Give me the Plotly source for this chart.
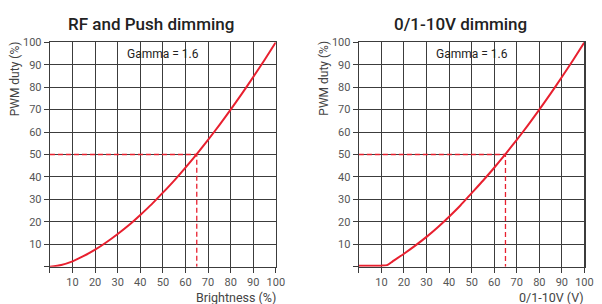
import plotly.graph_objects as go

# ---- data ----
x_rf = [0, 5, 10, 15, 20, 25, 30, 35, 40, 45, 50, 55, 60, 65, 70, 75, 80, 85, 90, 95, 100]
y_rf = [0, 0.8, 2.4, 4.8, 7.6, 10.9, 14.6, 18.6, 23.1, 27.8, 33.0, 38.4, 44.2, 50.2, 56.5, 63.1, 70.0, 77.1, 84.5, 92.1, 100]

x_v = [0, 5, 10, 12.5, 15, 20, 25, 30, 35, 40, 45, 50, 55, 60, 65, 70, 75, 80, 85, 90, 95, 100]
y_v = [0.5, 0.5, 0.5, 0.7, 2.4, 5.8, 9.4, 13.3, 17.6, 22.3, 27.3, 32.8, 38.3, 44.1, 50.2, 56.5, 63.1, 70.0, 77.1, 84.5, 92.1, 100]

ref_x = [0, 65, 65]
ref_y = [50, 50, 0]

tick_vals = [0, 10, 20, 30, 40, 50, 60, 70, 80, 90, 100]
tick_text = ["", "10", "20", "30", "40", "50", "60", "70", "80", "90", "100"]

titles = ["RF and Push dimming", "0/1-10V dimming"]
x_titles = ["Brightness (%)", "0/1-10V (V)"]
y_title = "PWM duty (%)"
note = "Gamma = 1.6"

W, H = 602, 304
RED = "#e8202f"
GRID = "#3c3c3c"
FONT = "Roboto"

fig = go.Figure()

series = [(x_rf, y_rf), (x_v, y_v)]
for i, (xs, ys) in enumerate(series):
    xa = "x" if i == 0 else "x2"
    ya = "y" if i == 0 else "y2"
    fig.add_trace(go.Scatter(x=ref_x, y=ref_y, mode="lines", xaxis=xa, yaxis=ya,
                             line=dict(color=RED, width=1.3, dash="5px,3px"), showlegend=False,
                             hoverinfo="skip"))
    fig.add_trace(go.Scatter(x=xs, y=ys, mode="lines", xaxis=xa, yaxis=ya,
                             line=dict(color=RED, width=2, shape="spline", smoothing=0.6),
                             showlegend=False))

x_domains = [[50.7 / W, 280.0 / W], [364.3 / W, 593.3 / W]]
y_domain = [(H - 266.0) / H, (H - 37.0) / H]

axis_common = dict(range=[0, 100], tickvals=tick_vals, ticktext=tick_text,
                   showgrid=True, gridcolor=GRID, gridwidth=1,
                   showline=True, linecolor=GRID, linewidth=1.2, mirror=True,
                   ticks="outside", ticklen=5, tickcolor=GRID, tickwidth=1,
                   zeroline=False, fixedrange=True,
                   tickfont=dict(family=FONT, size=11, color="#555555"))

fig.update_layout(
    width=W, height=H, margin=dict(l=0, r=0, t=0, b=0),
    paper_bgcolor="white", plot_bgcolor="white",
    xaxis=dict(domain=x_domains[0], anchor="y", **axis_common),
    yaxis=dict(domain=y_domain, anchor="x", **axis_common),
    xaxis2=dict(domain=x_domains[1], anchor="y2", **axis_common),
    yaxis2=dict(domain=y_domain, anchor="x2", **axis_common),
)

title_centers = [153, 467]
ytitle_x = [15, 328]
for i in range(2):
    xr = "x" if i == 0 else "x2"
    yr = "y" if i == 0 else "y2"
    fig.add_annotation(text=titles[i], xref="paper", yref="paper",
                       x=title_centers[i] / W, y=(H - 18) / H, showarrow=False,
                       xanchor="center", yanchor="middle",
                       font=dict(family=FONT, size=17, color="#222222", weight=500))
    fig.add_annotation(text=note, xref=xr, yref=yr, x=50, y=94.8, showarrow=False,
                       xanchor="center", yanchor="middle",
                       font=dict(family=FONT, size=12, color="#222222"))
    fig.add_annotation(text=x_titles[i], xref="paper", yref="paper",
                       x=x_domains[i][1], y=(H - 297) / H, showarrow=False,
                       xanchor="right", yanchor="middle", xshift=2,
                       font=dict(family=FONT, size=12.5, color="#444444"))
    fig.add_annotation(text=y_title, xref="paper", yref="paper",
                       x=ytitle_x[i] / W, y=(H - 74) / H, showarrow=False, textangle=-90,
                       xanchor="center", yanchor="middle",
                       font=dict(family=FONT, size=12, color="#444444"))

fig.write_html("out.html", config={"displayModeBar": False, "staticPlot": True},
               post_script="document.body.style.margin='0';document.body.style.overflow='hidden';")
